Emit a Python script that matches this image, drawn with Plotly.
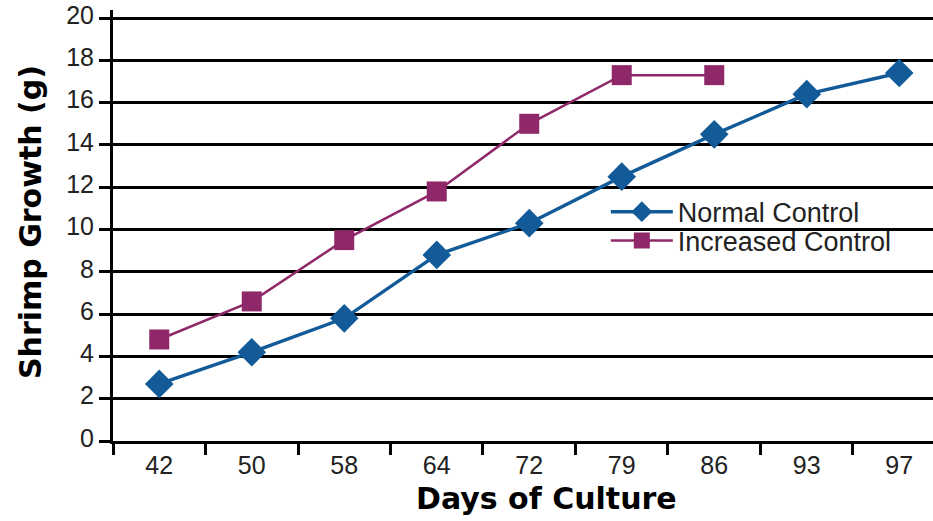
import plotly.graph_objects as go

days = ["42", "50", "58", "64", "72", "79", "86", "93", "97"]
normal_control = [2.7, 4.2, 5.8, 8.8, 10.3, 12.5, 14.5, 16.4, 17.4]
increased_days = ["42", "50", "58", "64", "72", "79", "86"]
increased_control = [4.8, 6.6, 9.5, 11.8, 15.0, 17.3, 17.3]
y_ticks = list(range(0, 21, 2))

BLUE = "#135b98"
PURPLE = "#8e2868"
TITLE_FONT = dict(family="DejaVu Sans, sans-serif", size=30, color="black", weight=700)

fig = go.Figure()
fig.add_trace(go.Scatter(
    x=days, y=normal_control, name="Normal Control", mode="lines+markers",
    line=dict(color=BLUE, width=3.4),
    marker=dict(symbol="diamond", size=22, color=BLUE),
    legend="legend", showlegend=True,
))
fig.add_trace(go.Scatter(
    x=increased_days, y=increased_control, name="Increased Control", mode="lines+markers",
    line=dict(color=PURPLE, width=2.5),
    marker=dict(symbol="square", size=20, color=PURPLE),
    legend="legend2", showlegend=True,
))

legend_common = dict(
    xanchor="left", yanchor="middle",
    bgcolor="rgba(0,0,0,0)", font=dict(size=27, color="#222"),
    itemwidth=62, visible=True,
)

fig.update_layout(
    width=933, height=521,
    margin=dict(l=113, r=0, t=10, b=80),
    paper_bgcolor="white", plot_bgcolor="white",
    showlegend=True,
    font=dict(family="Liberation Sans, Arial, sans-serif", size=25, color="#222"),
    legend=dict(x=0.601, y=0.531, **legend_common),
    legend2=dict(x=0.601, y=0.464, **legend_common),
    xaxis=dict(
        type="category", categoryorder="array", categoryarray=days,
        range=[-0.5, 8.365], automargin=False,
        showgrid=False, showline=True, linecolor="black", linewidth=3,
        ticks="outside", ticklen=11, tickwidth=3, tickcolor="black",
        tickson="boundaries",
        tickfont=dict(size=25, color="#222"),
        zeroline=False,
    ),
    yaxis=dict(
        range=[0, 20.38], tickvals=y_ticks, automargin=False,
        ticklabeloverflow="allow", ticklabelshift=-3,
        showgrid=True, gridcolor="black", gridwidth=2.5,
        showline=True, linecolor="black", linewidth=3,
        ticks="outside", ticklen=11, tickwidth=3, tickcolor="black",
        tickfont=dict(size=25, color="#222"),
        zeroline=False,
    ),
    annotations=[
        dict(text="Days of Culture", xref="paper", yref="paper",
             x=0.529, y=-0.1323,
             xanchor="center", yanchor="middle", showarrow=False, font=TITLE_FONT),
        dict(text="Shrimp Growth (g)", xref="paper", yref="paper",
             x=-0.1012, y=0.508, textangle=-90,
             xanchor="center", yanchor="middle", showarrow=False, font=TITLE_FONT),
    ],
)

# Remove the browser's default 8px body margin so the figure fills the window.
fig.write_html(
    "out.html",
    config={"displayModeBar": False},
    post_script="document.body.style.margin='0';",
)
